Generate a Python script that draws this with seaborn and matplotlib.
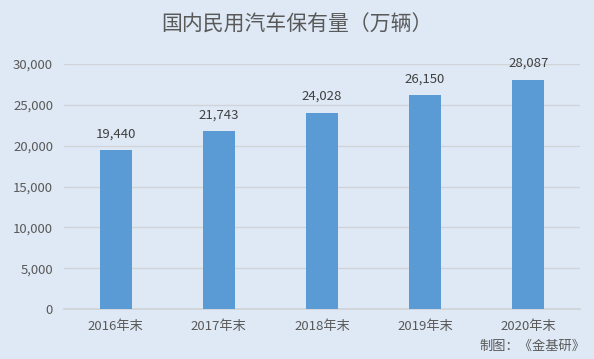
import matplotlib
matplotlib.use("Agg")
import matplotlib.pyplot as plt
import pandas as pd
import seaborn as sns

# ----- data
years = ["2016年末", "2017年末", "2018年末", "2019年末", "2020年末"]
counts = [19440, 21743, 24028, 26150, 28087]

bg = "#dee9f5"
bar_color = "#5b9bd5"
text_color = "#595959"

sns.set_theme(style="white")
plt.rcParams["font.family"] = ["Noto Sans CJK SC", "DejaVu Sans"]

df = pd.DataFrame({"year": years, "count": counts})

fig = plt.figure(figsize=(5.94, 3.59), dpi=100)
fig.patch.set_facecolor(bg)
ax = fig.add_axes([0.108, 0.139, 0.868, 0.683])
ax.set_facecolor(bg)

sns.barplot(data=df, x="year", y="count", color=bar_color, width=0.31,
            saturation=1, linewidth=0, ax=ax, zorder=3)

ax.set_ylim(0, 30000)
ax.set_yticks(range(0, 30001, 5000))
ax.set_yticklabels([f"{v:,}" for v in range(0, 30001, 5000)])
ax.yaxis.grid(True, color="#d0d4d9", linewidth=1, zorder=0)
ax.set_xlim(-0.5, 4.5)
for s in ["top", "right", "left"]:
    ax.spines[s].set_visible(False)
ax.spines["bottom"].set_color("#d0d4d9")
ax.tick_params(axis="both", length=0, labelsize=9.5, colors=text_color, pad=8)
ax.set_xlabel("")
ax.set_ylabel("")

for i, v in enumerate(counts):
    ax.annotate(f"{v:,}", (i, v), xytext=(0, 7), textcoords="offset points",
                ha="center", va="bottom", fontsize=9.5, color="#404040")

fig.text(0.5, 0.932, "国内民用汽车保有量（万辆）", ha="center", va="center",
         fontsize=15, color=text_color)
fig.text(0.985, 0.035, "制图：《金基研》", ha="right", va="center",
         fontsize=9.5, color=text_color)

fig.savefig("out.png", dpi=100, facecolor=bg)
